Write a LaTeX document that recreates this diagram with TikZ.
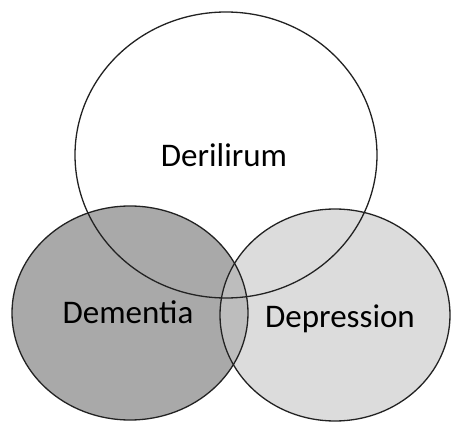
\documentclass[tikz,border=0pt]{standalone}
\usepackage{fontspec}
\setmainfont{Carlito}
\definecolor{demfill}{HTML}{A9A9A9}
\definecolor{depfill}{HTML}{DCDCDC}
\definecolor{lensfill}{HTML}{BDBDBD}
\definecolor{edge}{HTML}{222222}
\tikzset{
  venn/.style={draw=edge, line width=1.3pt},
  lbl/.style={anchor=base, inner sep=0pt, font=\fontsize{33}{39}\selectfont, text=black}
}
\begin{document}
\begin{tikzpicture}[x=1pt,y=-1pt]
\useasboundingbox[fill=white] (0,0) rectangle (451,423);
% fills
\fill[demfill] (130,313) ellipse [x radius=118pt, y radius=107pt];
\fill[depfill] (335,315) ellipse [x radius=115pt, y radius=106pt];
\begin{scope}
  \clip (130,313) ellipse [x radius=118pt, y radius=107pt];
  \fill[lensfill] (335,315) ellipse [x radius=115pt, y radius=106pt];
\end{scope}
% outlines
\draw[venn] (130,313) ellipse [x radius=118pt, y radius=107pt];
\draw[venn] (335,315) ellipse [x radius=115pt, y radius=106pt];
\draw[venn] (226,155) ellipse [x radius=151pt, y radius=143pt];
% labels
\node[lbl] (del) at (224,166) {Derilirum};
\node[lbl] (dem) at (128,323) {Dementia};
\node[lbl] (dep) at (340,327) {Depression};
\end{tikzpicture}
\end{document}
